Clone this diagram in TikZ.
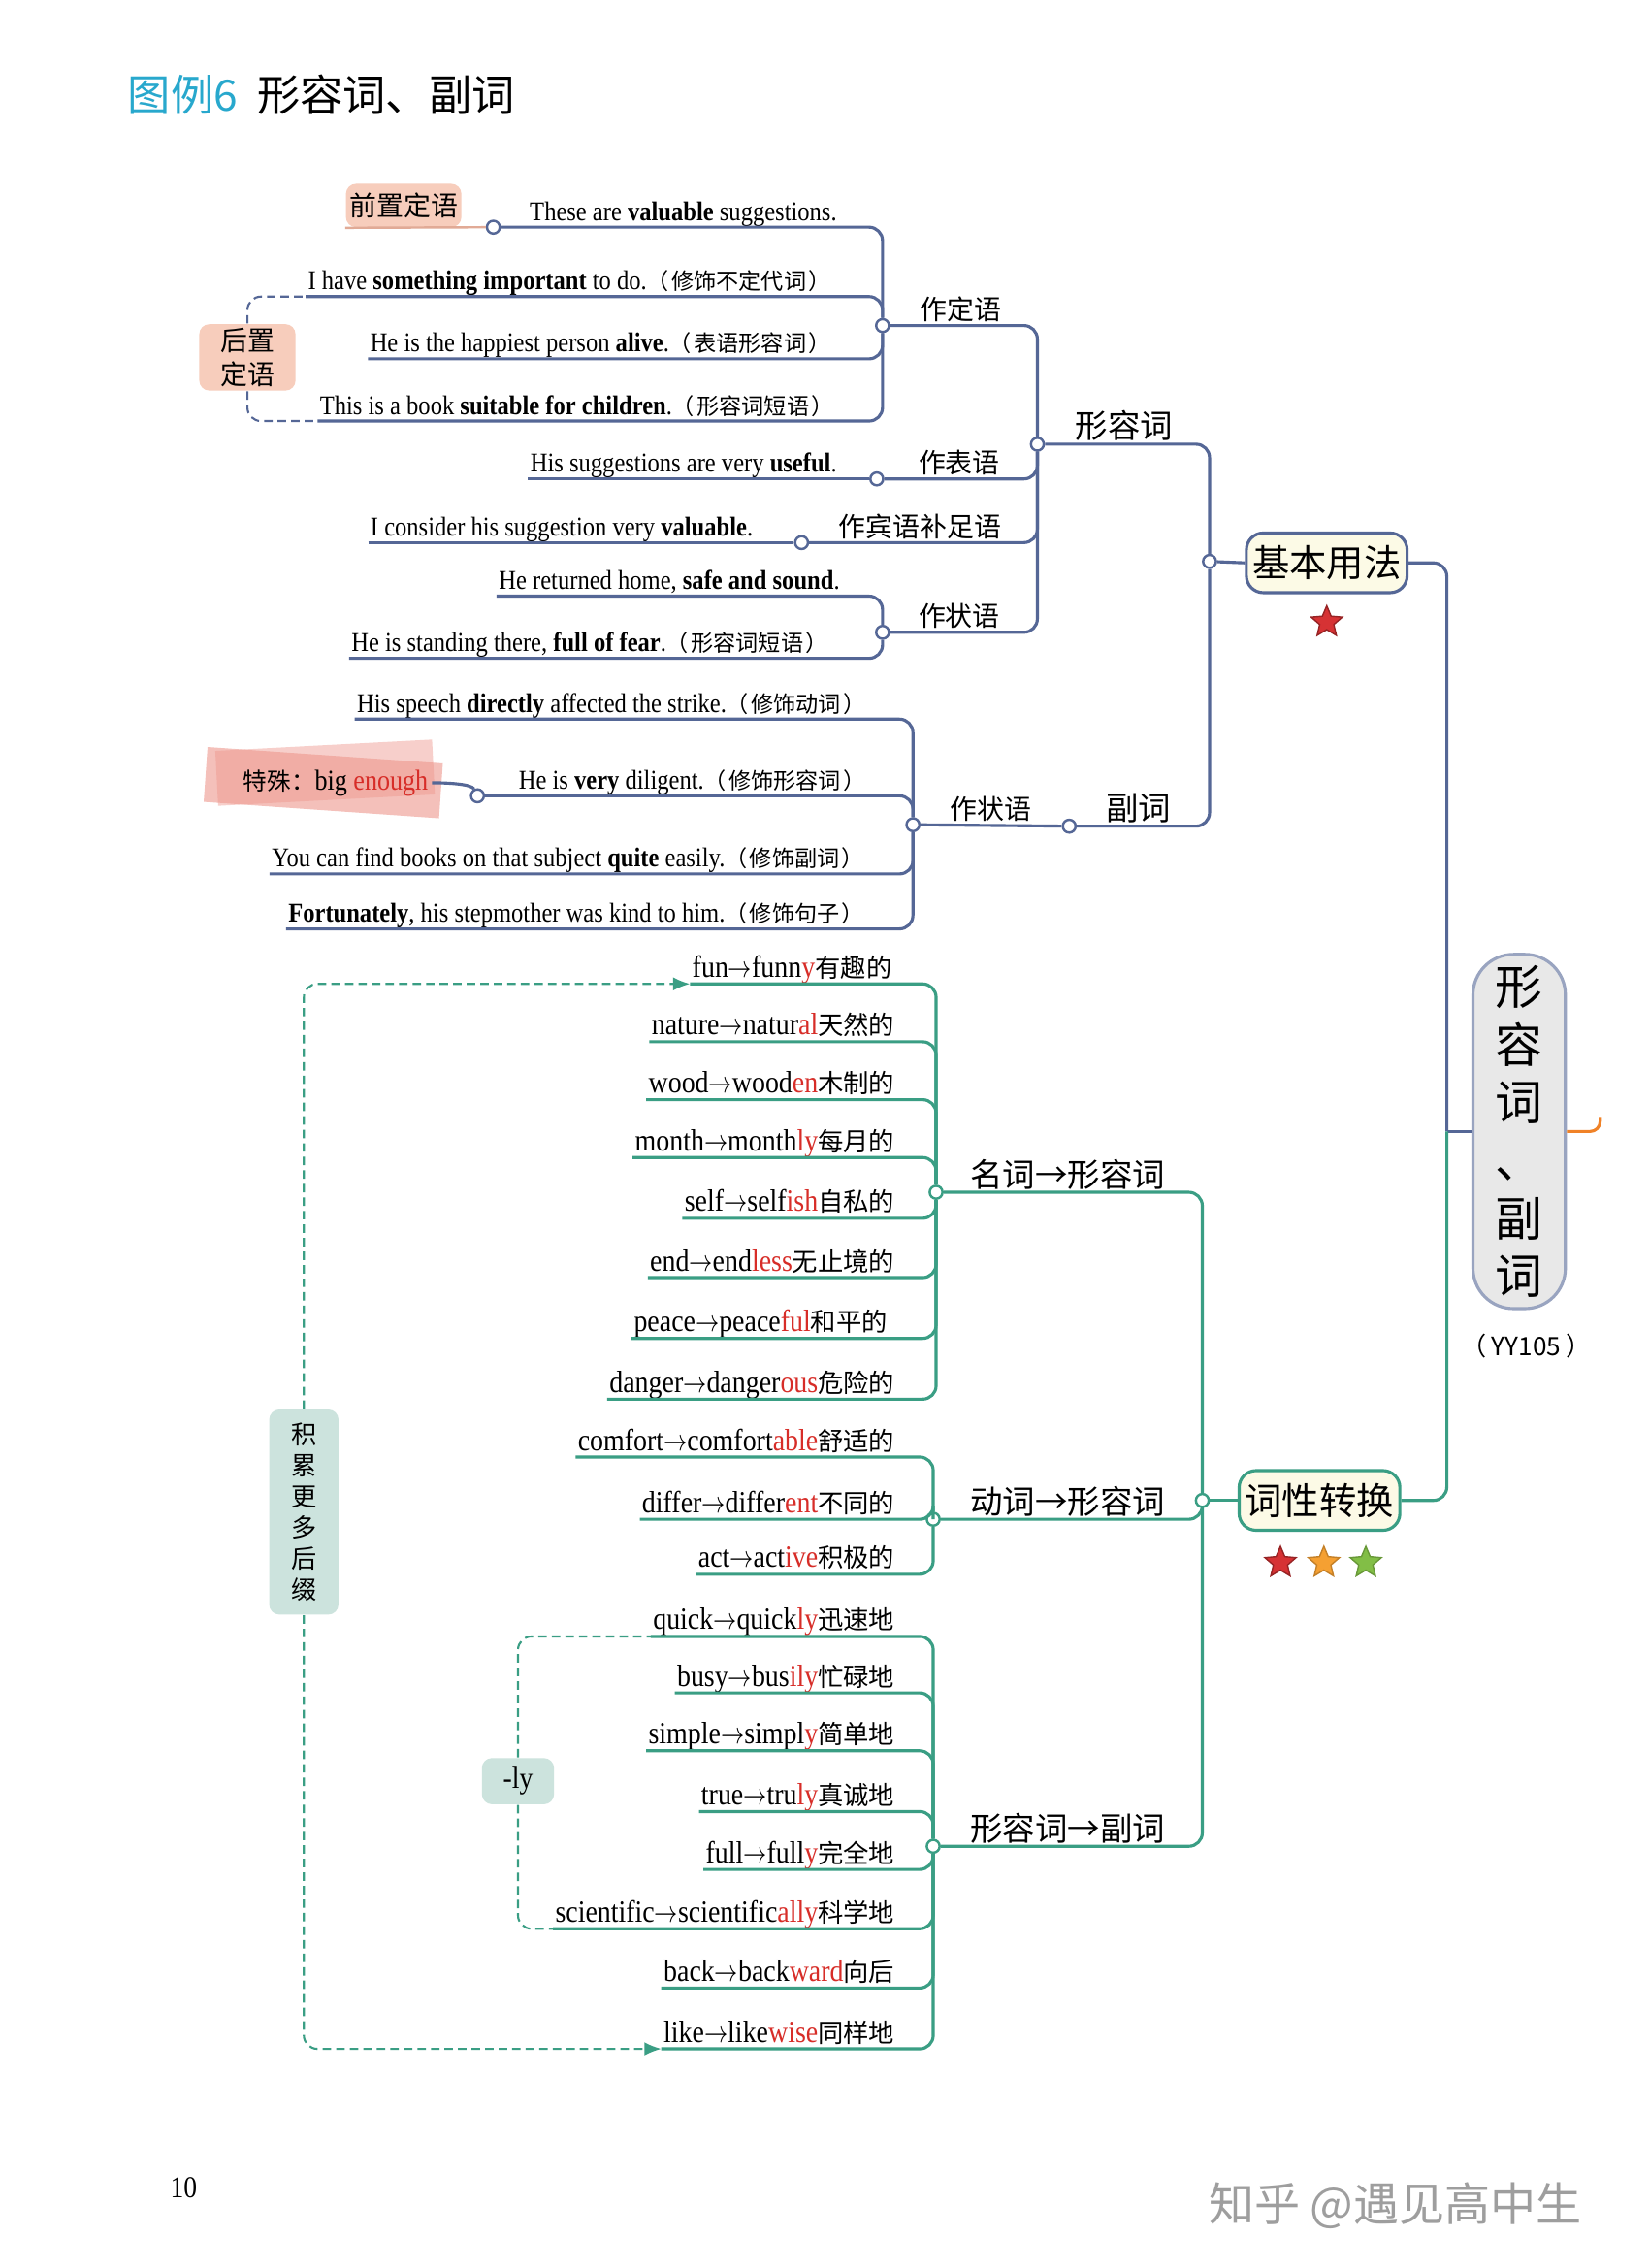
\documentclass[tikz,border=0pt]{standalone}
\usepackage{fontspec}
\usepackage{xcolor}
\usetikzlibrary{shapes.geometric,arrows.meta}
\setmainfont[FakeStretch=0.88]{Liberation Serif}
\newfontfamily\cjk{Noto Sans CJK SC}
\newfontfamily\cjks[Scale=0.83]{Noto Sans CJK SC}
\newcommand{\zh}[1]{{\cjks #1}}
\newcommand{\nt}[1]{\zh{（\hspace{0.1em}#1\hspace{0.1em}）}}
\newcommand{\sx}[1]{\textcolor{suffred}{#1}}
\newcommand{\ar}{\scalebox{0.75}[1]{$\rightarrow$}}
\definecolor{lineblue}{RGB}{85,103,150}
\definecolor{lineteal}{RGB}{58,158,132}
\definecolor{suffred}{RGB}{215,45,40}
\definecolor{titlecyan}{RGB}{40,168,205}
\definecolor{pinkbox}{RGB}{247,205,188}
\definecolor{pinkline}{RGB}{225,170,150}
\definecolor{hlpink}{RGB}{238,150,140}
\definecolor{tealbox}{RGB}{204,227,221}
\definecolor{yelbox}{RGB}{252,250,230}
\definecolor{greybox}{RGB}{232,232,232}
\definecolor{starred}{RGB}{214,50,52}
\definecolor{starorange}{RGB}{245,160,50}
\definecolor{stargreen}{RGB}{130,190,70}
\definecolor{stuborange}{RGB}{240,130,40}

\tikzset{
	bline/.style={draw=lineblue, line width=0.9pt, rounded corners=4pt},
	tline/.style={draw=lineteal, line width=0.9pt, rounded corners=4pt},
	bdash/.style={draw=lineblue, line width=0.6pt, dash pattern=on 2.5pt off 1.5pt, rounded corners=4pt},
	tdash/.style={draw=lineteal, line width=0.6pt, dash pattern=on 2.5pt off 1.5pt, rounded corners=4pt},
	sent/.style={anchor=south east, inner xsep=0.5pt, inner ysep=1.8pt, text depth=0pt, font=\fontsize{8}{9}\selectfont},
	word/.style={sent, font=\fontsize{9.1}{10}\selectfont},
	lab/.style={anchor=south, inner sep=1.5pt, text depth=0pt, font=\cjk\fontsize{8}{9}\selectfont},
	biglab/.style={lab, font=\cjk\fontsize{9.6}{10}\selectfont},
	knot/.style={circle, draw=lineblue, fill=white, line width=0.7pt, inner sep=0pt, minimum size=3.8pt},
	tknot/.style={knot, draw=lineteal},
	tag/.style={rounded corners=3pt, inner sep=0pt, align=center},
	hub/.style={rounded corners=5pt, fill=yelbox, line width=0.9pt, minimum width=1.67cm, minimum height=0.62cm, inner sep=0pt, font=\cjk\fontsize{11}{12}\selectfont},
	rootbox/.style={rounded corners=0.42cm, fill=greybox, draw=lineblue!60, line width=0.9pt, minimum width=0.96cm, minimum height=3.68cm, align=center, inner sep=0pt, font=\cjk\fontsize{14}{17.1}\selectfont},
	prize/.style={star, star points=5, star point ratio=2.2, minimum size=0.34cm, inner sep=0pt, line width=0.4pt}
}

\begin{document}
\begin{tikzpicture}[x=0.15031mm, y=-0.15031mm]

	\useasboundingbox (0,0) rectangle (1140,1567.5);
	\fill[white] (0,0) rectangle (1140,1567.5);

	\node[anchor=base west, inner sep=0pt, font=\cjk\fontsize{12.7}{14}\selectfont] (title) at (88,77) {\textcolor{titlecyan}{图例6}\hspace{0.45em}形容词、副词};

	\node[rootbox] (root) at (1050,782) {形\\容\\词\\、\\副\\词};
	\node[font=\cjk\fontsize{7.5}{9}\selectfont] (code) at (1055,930) {（\hspace{0.2em}YY105\hspace{0.2em}）};
	\coordinate (j0) at (1000,782);
	\coordinate (stub) at (1106,772);

	\node[hub, draw=lineblue] (basic) at (917,389) {基本用法};
	\node[hub, draw=lineteal] (conv) at (912,1037) {词性转换};
	\node[prize, fill=starred, draw=starred!70!black] (st0) at (917,430) {};
	\node[prize, fill=starred, draw=starred!70!black] (st1) at (885,1080) {};
	\node[prize, fill=starorange, draw=starorange!80!black] (st2) at (915,1080) {};
	\node[prize, fill=stargreen, draw=stargreen!80!black] (st3) at (944,1080) {};

	\node[knot] (c1) at (341,157) {};
	\node[knot] (j1) at (610,225) {};
	\node[knot] (c5) at (606,331) {};
	\node[knot] (c6) at (554,375) {};
	\node[knot] (j3) at (610,437) {};
	\node[knot] (j2) at (717,307) {};
	\node[knot] (j4) at (836,388) {};
	\node[knot] (j5) at (631,570) {};
	\node[knot] (c10) at (330,550) {};
	\node[knot] (c7) at (739,571) {};
	\node[tknot] (j6) at (647,824) {};
	\node[tknot] (j7) at (645,1050) {};
	\node[tknot] (j8) at (645,1276) {};
	\node[tknot] (j9) at (831,1037) {};

	\node[lab] (l1) at (664,225) {作定语};
	\node[lab] (l2) at (663,331) {作表语};
	\node[lab] (l3) at (636,375) {作宾语补足语};
	\node[lab] (l4) at (663,437) {作状语};
	\node[biglab] (l5) at (777,307) {形容词};
	\node[lab] (l6) at (685,570) {作状语};
	\node[biglab] (l7) at (787,571) {副词};
	\node[biglab] (l8) at (738,824) {名词→形容词};
	\node[biglab] (l9) at (738,1050) {动词→形容词};
	\node[biglab] (l10) at (738,1276) {形容词→副词};

	\node[tag, fill=pinkbox, minimum width=1.2cm, minimum height=0.45cm, font=\cjk\fontsize{8}{9}\selectfont] (pre) at (279,142) {前置定语};
	\node[tag, fill=pinkbox, minimum width=1cm, minimum height=0.69cm, font=\cjk\fontsize{8}{10}\selectfont] (post) at (171,247) {后置\\定语};
	\node[tag, fill=tealbox, minimum width=0.72cm, minimum height=2.13cm, font=\cjk\fontsize{7.5}{9.2}\selectfont] (acc) at (210,1045) {积\\累\\更\\多\\后\\缀};
	\node[tag, fill=tealbox, minimum width=0.75cm, minimum height=0.48cm, font=\fontsize{9}{10}\selectfont] (ly) at (358,1231) {-ly};

	\fill[hlpink, opacity=0.6, rotate around={-4:(225,540)}] (142,522) rectangle (305,560);
	\fill[hlpink, opacity=0.45, rotate around={3:(225,540)}] (150,515) rectangle (300,553);
	\node[font=\fontsize{8.5}{10}\selectfont, inner sep=1pt] (sp) at (232,541) {\zh{特殊：}big \sx{enough}};

	\node[sent] (s1) at (580,157) {These are \textbf{valuable} suggestions.};
	\node[sent] (s2) at (576,205) {I have \textbf{something important} to do.\nt{修饰不定代词}};
	\node[sent] (s3) at (576,248) {He is the happiest person \textbf{alive}.\nt{表语形容词}};
	\node[sent] (s4) at (578,291) {This is a book \textbf{suitable for children}.\nt{形容词短语}};
	\node[sent] (s5) at (580,331) {His suggestions are very \textbf{useful}.};
	\node[sent] (s6) at (522,375) {I consider his suggestion very \textbf{valuable}.};
	\node[sent] (s7) at (582,412) {He returned home, \textbf{safe and sound}.};
	\node[sent] (s8) at (574,455) {He is standing there, \textbf{full of fear}.\nt{形容词短语}};
	\node[sent] (s9) at (600,497) {His speech \textbf{directly} affected the strike.\nt{修饰动词}};
	\node[sent] (s10) at (600,550) {He is \textbf{very} diligent.\nt{修饰形容词}};
	\node[sent] (s11) at (599,604) {You can find books on that subject \textbf{quite} easily.\nt{修饰副词}};
	\node[sent] (s12) at (599,642) {\textbf{Fortunately}, his stepmother was kind to him.\nt{修饰句子}};

	\node[word] (n1) at (618,680) {fun\ar funn\sx{y}\zh{有趣的}};
	\node[word] (n2) at (620,720) {nature\ar natur\sx{al}\zh{天然的}};
	\node[word] (n3) at (620,760) {wood\ar wood\sx{en}\zh{木制的}};
	\node[word] (n4) at (620,800) {month\ar month\sx{ly}\zh{每月的}};
	\node[word] (n5) at (620,842) {self\ar self\sx{ish}\zh{自私的}};
	\node[word] (n6) at (620,883) {end\ar end\sx{less}\zh{无止境的}};
	\node[word] (n7) at (615,925) {peace\ar peace\sx{ful}\zh{和平的}};
	\node[word] (n8) at (620,967) {danger\ar danger\sx{ous}\zh{危险的}};
	\node[word] (v1) at (620,1007) {comfort\ar comfort\sx{able}\zh{舒适的}};
	\node[word] (v2) at (620,1050) {differ\ar differ\sx{ent}\zh{不同的}};
	\node[word] (v3) at (620,1088) {act\ar act\sx{ive}\zh{积极的}};
	\node[word] (a1) at (620,1131) {quick\ar quick\sx{ly}\zh{迅速地}};
	\node[word] (a2) at (620,1170) {busy\ar bus\sx{ily}\zh{忙碌地}};
	\node[word] (a3) at (620,1210) {simple\ar simpl\sx{y}\zh{简单地}};
	\node[word] (a4) at (620,1252) {true\ar tru\sx{ly}\zh{真诚地}};
	\node[word] (a5) at (620,1292) {full\ar full\sx{y}\zh{完全地}};
	\node[word] (a6) at (620,1333) {scientific\ar scientific\sx{ally}\zh{科学地}};
	\node[word] (a7) at (620,1374) {back\ar back\sx{ward}\zh{向后}};
	\node[word] (a8) at (620,1416) {like\ar like\sx{wise}\zh{同样地}};

	\draw[pinkline, line width=0.7pt] (pre.south west) -- (c1);
	\draw[bline] (c1) -| (j1);
	\draw[bline] (s2.south west) -| (j1);
	\draw[bline] (s3.south west) -| (j1);
	\draw[bline] (s4.south west) -| (j1);
	\draw[bdash] (post.north) |- (s2.south west);
	\draw[bdash] (post.south) |- (s4.south west);
	\draw[bline] (j1) -| (j2);
	\draw[bline] (s5.south west) -- (c5);
	\draw[bline] (c5) -| (j2);
	\draw[bline] (s6.south west) -- (c6);
	\draw[bline] (c6) -| (j2);
	\draw[bline] (s7.south west) -| (j3);
	\draw[bline] (s8.south west) -| (j3);
	\draw[bline] (j3) -| (j2);
	\draw[bline] (j2) -| (j4);
	\draw[bline] (s9.south west) -| (j5);
	\draw[bline] (sp.east) .. controls +(12,0) and +(-4,-8) .. (c10);
	\draw[bline] (c10) -| (j5);
	\draw[bline] (s11.south west) -| (j5);
	\draw[bline] (s12.south west) -| (j5);
	\draw[bline] (j5) -- (c7);
	\draw[bline] (c7) -| (j4);
	\draw[bline] (j4) -- (basic.west);
	\draw[bline] (basic.east) -| (j0);
	\draw[bline] (j0) -- (root.west);
	\draw[draw=stuborange, line width=0.9pt, rounded corners=3pt] (root.east) -| (stub);

	\draw[tline] (n1.south west) -| (j6);
	\draw[tline] (n2.south west) -| (j6);
	\draw[tline] (n3.south west) -| (j6);
	\draw[tline] (n4.south west) -| (j6);
	\draw[tline] (n5.south west) -| (j6);
	\draw[tline] (n6.south west) -| (j6);
	\draw[tline] (n7.south west) -| (j6);
	\draw[tline] (n8.south west) -| (j6);
	\draw[tline] (v1.south west) -| (j7);
	\draw[tline] (v2.south west) -| (j7);
	\draw[tline] (v3.south west) -| (j7);
	\draw[tline] (a1.south west) -| (j8);
	\draw[tline] (a2.south west) -| (j8);
	\draw[tline] (a3.south west) -| (j8);
	\draw[tline] (a4.south west) -| (j8);
	\draw[tline] (a5.south west) -| (j8);
	\draw[tline] (a6.south west) -| (j8);
	\draw[tline] (a7.south west) -| (j8);
	\draw[tline] (a8.south west) -| (j8);
	\draw[tline] (j6) -| (j9);
	\draw[tline] (j7) -| (j9);
	\draw[tline] (j8) -| (j9);
	\draw[tline] (j9) -- (conv.west);
	\draw[tline] (conv.east) -| (j0);
	\draw[tdash] (ly.north) |- (a1.south west);
	\draw[tdash] (ly.south) |- (a6.south west);
	\draw[tdash, -{Latex[length=5pt, width=4pt]}] (acc.north) |- (n1.south west);
	\draw[tdash, -{Latex[length=5pt, width=4pt]}] (acc.south) |- (a8.south west);

	\node[font=\fontsize{9}{10}\selectfont] (pg) at (127,1512) {10};
	\node[anchor=base west, inner sep=0pt, font=\cjk\fontsize{13.5}{15}\selectfont, text=black!38] (wm) at (835,1535) {知乎 @遇见高中生};

\end{tikzpicture}
\end{document}
